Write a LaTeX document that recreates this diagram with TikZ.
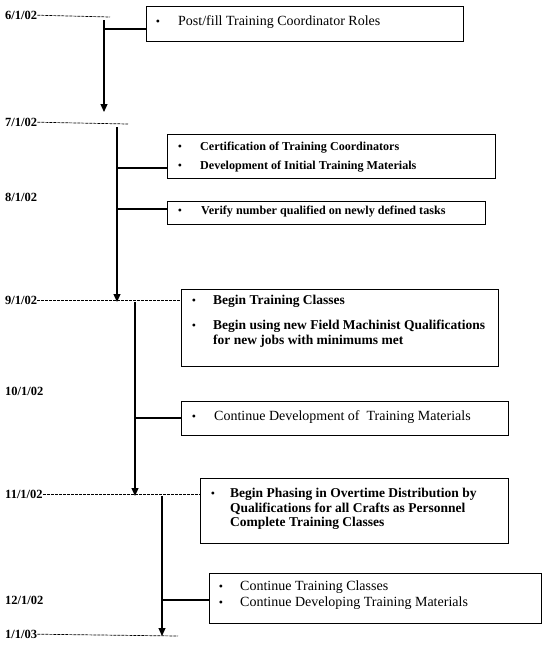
\documentclass[tikz,border=0pt]{standalone}
\usepackage{fontspec}
\setmainfont{Liberation Serif}
\usetikzlibrary{arrows.meta}
\tikzset{
  box/.style={draw, line width=1.2pt, anchor=north west, inner sep=0pt},
  date/.style={anchor=mid west, inner sep=0pt, font=\fontsize{12.5}{14}\selectfont\bfseries},
  tl/.style={dash pattern=on 3pt off 1pt, line width=0.7pt},
  conn/.style={line width=1.1pt},
  arr/.style={line width=1.1pt, -{Triangle[length=8pt,width=7pt]}},
  bul/.style={inner sep=0pt, font=\fontsize{12}{14}\selectfont},
  rg/.style={anchor=mid west, inner sep=0pt, align=left, font=\fontsize{14}{15}\selectfont},
  bd/.style={anchor=mid west, inner sep=0pt, align=left, font=\fontsize{13.5}{14.5}\selectfont\bfseries},
  bds/.style={anchor=mid west, inner sep=0pt, align=left, font=\fontsize{12.1}{14}\selectfont\bfseries},
}
\begin{document}
\begin{tikzpicture}[x=1pt,y=-1pt]
\useasboundingbox (0,0) rectangle (542,649);

% date labels
\node[date] (d1) at (5,17) {6/1/02};
\node[date] (d2) at (5,124) {7/1/02};
\node[date] (d3) at (5,199) {8/1/02};
\node[date] (d4) at (5,302) {9/1/02};
\node[date] (d5) at (5,393) {10/1/02};
\node[date] (d6) at (5,496) {11/1/02};
\node[date] (d7) at (5,602) {12/1/02};
\node[date] (d8) at (5,636) {1/1/03};

% boxes
\node[box, minimum width=317, minimum height=35] (b1) at (146,6) {};
\node[box, minimum width=328, minimum height=44] (b2) at (167,134) {};
\node[box, minimum width=318, minimum height=23] (b3) at (167,201) {};
\node[box, minimum width=317, minimum height=77] (b4) at (181,289) {};
\node[box, minimum width=327, minimum height=34] (b5) at (181,401) {};
\node[box, minimum width=308, minimum height=65] (b6) at (200,478) {};
\node[box, minimum width=332, minimum height=50] (b7) at (209,573) {};

% box texts
\node[bul] (u1) at (158,23) {\textbullet};
\node[rg] (t1) at (178,23) {Post/fill Training Coordinator Roles};

\node[bul] (u2a) at (180,148) {\textbullet};
\node[bds] (t2a) at (200,148) {Certification of Training Coordinators};
\node[bul] (u2b) at (180,167) {\textbullet};
\node[bds] (t2b) at (200,167) {Development of Initial Training Materials};

\node[bul] (u3) at (180,212) {\textbullet};
\node[bds] (t3) at (201,212) {Verify number qualified on newly defined tasks};

\node[bul] (u4a) at (194,302) {\textbullet};
\node[bd] (t4a) at (213,302) {Begin Training Classes};
\node[bul] (u4b) at (194,327) {\textbullet};
\node[bd, anchor=north west] (t4b) at (213,320) {Begin using new Field Machinist Qualifications\\for new jobs with minimums met};

\node[bul] (u5) at (194,418) {\textbullet};
\node[rg] (t5) at (214,418) {Continue Development of\ \ Training Materials};

\node[bul] (u6) at (213,495) {\textbullet};
\node[bd, anchor=north west] (t6) at (230,488) {Begin Phasing in Overtime Distribution by\\Qualifications for all Crafts as Personnel\\Complete Training Classes};

\node[bul] (u7a) at (221,588) {\textbullet};
\node[rg] (t7a) at (240,588) {Continue Training Classes};
\node[bul] (u7b) at (221,604) {\textbullet};
\node[rg] (t7b) at (240,604) {Continue Developing Training Materials};

% junction / end coordinates
\coordinate (e1) at (110,17);
\coordinate (e2) at (128,124);
\coordinate (e8) at (178,636);
\coordinate (v1s) at (104,20);
\coordinate (v1e) at (104,112);
\coordinate (v2s) at (117,127);
\coordinate (v2e) at (117,302);
\coordinate (v3s) at (135,302);
\coordinate (v3e) at (135,496);
\coordinate (v4s) at (162,496);
\coordinate (v4e) at (162,636);
\coordinate (j1) at (104,29);
\coordinate (j2) at (117,168);
\coordinate (j3) at (117,209);
\coordinate (j5) at (135,418);
\coordinate (j7) at (162,600);

% timeline dashed lines
\draw[tl] (d1.east) -- (e1);
\draw[tl] (d2.east) -- (e2);
\draw[tl] (d4.east) -- (b4.west |- d4.east);
\draw[tl] (d6.east) -- (b6.west |- d6.east);
\draw[tl] (d8.east) -- (e8);

% vertical arrows
\draw[arr] (v1s) -- (v1e);
\draw[arr] (v2s) -- (v2e);
\draw[arr] (v3s) -- (v3e);
\draw[arr] (v4s) -- (v4e);

% connectors to boxes
\draw[conn] (j1) -- (b1.west |- j1);
\draw[conn] (j2) -- (b2.west |- j2);
\draw[conn] (j3) -- (b3.west |- j3);
\draw[conn] (j5) -- (b5.west |- j5);
\draw[conn] (j7) -- (b7.west |- j7);
\end{tikzpicture}
\end{document}
